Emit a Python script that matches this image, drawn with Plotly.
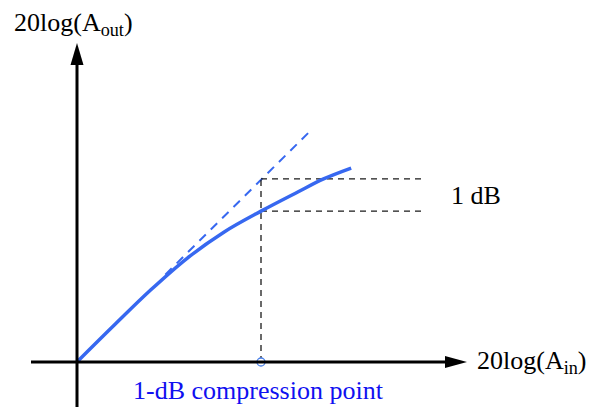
import plotly.graph_objects as go

# ---- data (arbitrary dB units) ----
pin_curve = [0, 2, 4, 6, 8, 10, 12, 13.4, 14.9]
pout_curve = [0, 1.98, 3.91, 5.65, 7.07, 8.2, 9.24, 9.95, 10.54]
pin_linear = [4.8, 12.77]
pout_linear = [4.75, 12.65]
p1db_in = 10
p1db_out = 8.2
p_linear_at_p1db = 9.95
labels = {"y": "20log(A<sub>out</sub>)", "x": "20log(A<sub>in</sub>)",
          "gap": "1 dB", "point": "1-dB compression point"}

# ---- geometry: pixel mapping (page has an 8px body margin) ----
PAD = 8
W, H = 598 - PAD, 412 - PAD
OX, OY, S = 77, 362, 18.4   # origin pixel in the window, pixels per unit


def dx(px):
    return (px - OX) / S


def dy(py):
    return (OY - py) / S


fig = go.Figure()

BLUE = "#3768F0"
fig.add_trace(go.Scatter(x=pin_linear, y=pout_linear, mode="lines",
                         line=dict(color=BLUE, width=2, dash="9px,7px"),
                         hoverinfo="skip"))
gx_end = dx(423)
GUIDE = dict(color="#1a1a1a", width=1.3, dash="6px,5px")
fig.add_trace(go.Scatter(x=[p1db_in, p1db_in], y=[0, p_linear_at_p1db], mode="lines",
                         line=GUIDE, hoverinfo="skip"))
fig.add_trace(go.Scatter(x=[p1db_in, gx_end], y=[p_linear_at_p1db, p_linear_at_p1db], mode="lines",
                         line=GUIDE, hoverinfo="skip"))
fig.add_trace(go.Scatter(x=[p1db_in, gx_end], y=[p1db_out, p1db_out], mode="lines",
                         line=GUIDE, hoverinfo="skip"))

shapes = [
    dict(type="line", x0=dx(31), y0=0, x1=dx(450), y1=0, line=dict(color="black", width=3)),
    dict(type="line", x0=0, y0=dy(407), x1=0, y1=dy(60), line=dict(color="black", width=3)),
    dict(type="path", path=f"M {dx(445)} {dy(356)} L {dx(467)} {dy(362)} L {dx(445)} {dy(368)} Z",
         fillcolor="black", line=dict(color="black", width=0)),
    dict(type="path", path=f"M {dx(70.5)} {dy(65)} L {dx(77)} {dy(43)} L {dx(83.5)} {dy(65)} Z",
         fillcolor="black", line=dict(color="black", width=0)),
]

fig.add_trace(go.Scatter(x=pin_curve, y=pout_curve, mode="lines", line_shape="spline",
                         line=dict(color=BLUE, width=3.5), hoverinfo="skip"))
fig.add_trace(go.Scatter(x=[p1db_in], y=[0], mode="markers",
                         marker=dict(size=8, color="white", line=dict(color="#4A80E8", width=1.3)),
                         hoverinfo="skip"))

FONT = "Liberation Serif"
FS = 26
ann = [
    dict(x=dx(12), y=dy(24), text=labels["y"], xanchor="left", yanchor="middle",
         font=dict(family=FONT, size=FS, color="black")),
    dict(x=dx(475), y=dy(362), text=labels["x"], xanchor="left", yanchor="middle",
         font=dict(family=FONT, size=FS, color="black")),
    dict(x=dx(449), y=dy(195), text=labels["gap"], xanchor="left", yanchor="middle",
         font=dict(family=FONT, size=FS, color="black")),
    dict(x=dx(258), y=dy(390), text=labels["point"], xanchor="center", yanchor="middle",
         font=dict(family=FONT, size=FS, color="#1010F0")),
]
for a in ann:
    a.update(showarrow=False, xref="x", yref="y")

fig.update_layout(
    width=W, height=H, margin=dict(l=0, r=0, t=0, b=0),
    paper_bgcolor="white", plot_bgcolor="white", showlegend=False,
    shapes=shapes, annotations=ann,
    xaxis=dict(range=[dx(PAD), dx(PAD + W)], visible=False, fixedrange=True),
    yaxis=dict(range=[dy(PAD + H), dy(PAD)], visible=False, fixedrange=True),
)
fig.write_html("out.html")
